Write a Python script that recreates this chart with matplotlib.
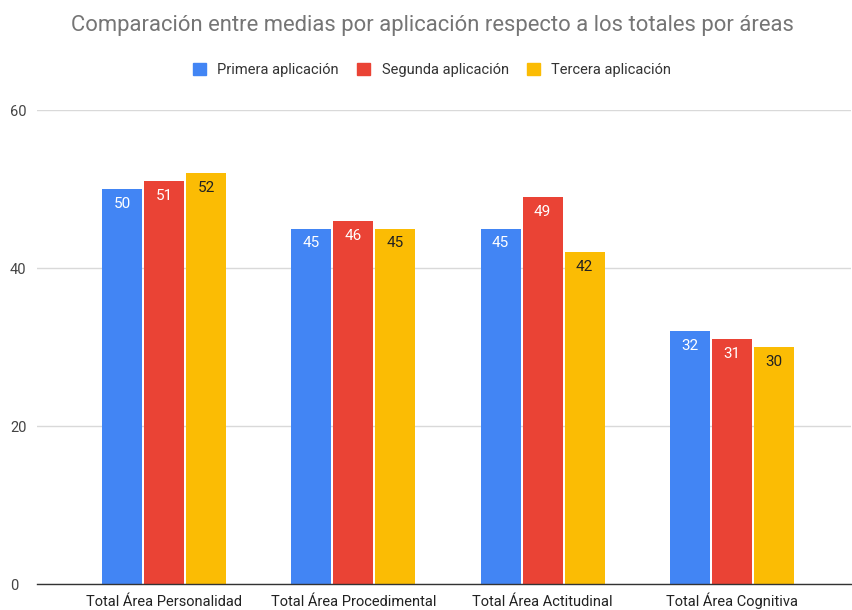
import matplotlib
matplotlib.use("Agg")
import matplotlib.pyplot as plt
from matplotlib.patches import Patch
import numpy as np

plt.rcParams['font.family'] = ['Roboto', 'DejaVu Sans']

categories = ["Total Área Personalidad", "Total Área Procedimental",
              "Total Área Actitudinal", "Total Área Cognitiva"]
series_names = ["Primera aplicación", "Segunda aplicación", "Tercera aplicación"]
primera = [50, 45, 45, 32]
segunda = [51, 46, 49, 31]
tercera = [52, 45, 42, 30]
colors = ["#4285F4", "#EA4335", "#FBBC04"]
label_colors = ["white", "white", "#222222"]
yticks = [0, 20, 40, 60]

fig = plt.figure(figsize=(8.52, 6.10), dpi=100)
ax = fig.add_axes([37/852, 1 - 584/610, (851-37)/852, (584-110)/610])

x = np.arange(len(categories))
width = 0.212
offsets = [-0.222, 0.0, 0.222]
for vals, off, c, lc in zip([primera, segunda, tercera], offsets, colors, label_colors):
    bars = ax.bar(x + off, vals, width, color=c, zorder=3)
    for b, v in zip(bars, vals):
        ax.text(b.get_x() + b.get_width()/2, v - 1.0, f"{v}", ha="center", va="top",
                color=lc, fontsize=11, zorder=4)

ax.set_xlim(-0.671, 3.629)
ax.set_ylim(0, 60)
ax.set_yticks(yticks)
ax.set_yticklabels([str(t) for t in yticks])
ax.yaxis.grid(True, color="#d9d9d9", linewidth=1, zorder=0)
ax.set_axisbelow(True)
for s in ["top", "right", "left"]:
    ax.spines[s].set_visible(False)
ax.spines["bottom"].set_color("#333333")
ax.spines["bottom"].set_linewidth(1)
ax.spines["bottom"].set_zorder(5)
ax.tick_params(axis="y", length=0, labelsize=10.5, labelcolor="#444444")
ax.tick_params(axis="x", length=0, pad=15.8, labelsize=10.5, labelcolor="#222222")
ax.set_xticks(x)
ax.set_xticklabels(categories)
for lbl in ax.get_xticklabels():
    lbl.set_verticalalignment("baseline")
for lbl in ax.get_yticklabels():
    lbl.set_horizontalalignment("left")
ax.tick_params(axis="y", pad=19.4)

fig.text(432/852, 1 - 26/610, "Comparación entre medias por aplicación respecto a los totales por áreas",
         ha="center", va="center", fontsize=15.8, color="#757575")

handles = [Patch(facecolor=c, edgecolor=c) for c in colors]
fig.legend(handles, series_names, loc="center", bbox_to_anchor=(432/852, 1 - 70/610),
           ncol=3, frameon=False, fontsize=10.5, handlelength=0.9, handleheight=0.9,
           handletextpad=0.8, columnspacing=1.22, labelcolor="#333333")

fig.savefig("out.png", dpi=100)
